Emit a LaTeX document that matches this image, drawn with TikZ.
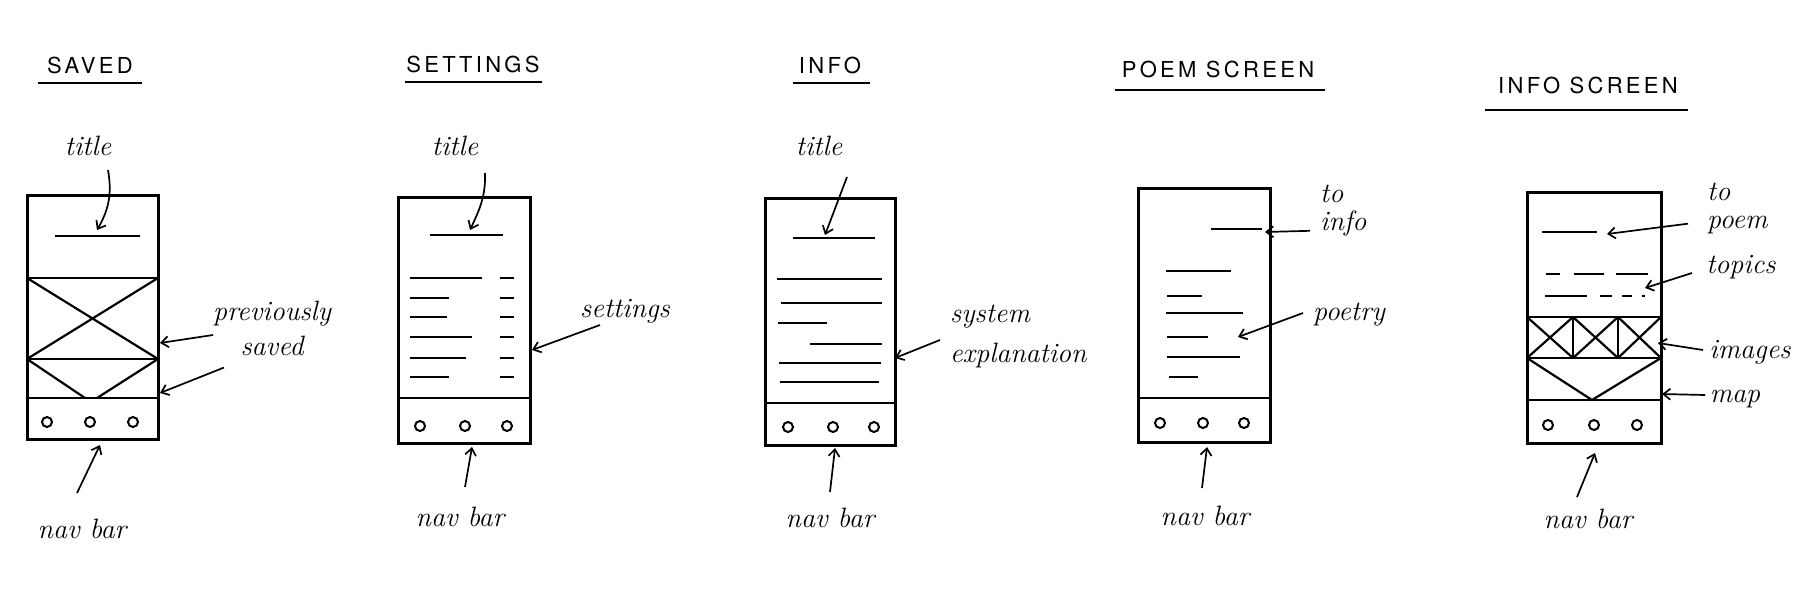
\documentclass[tikz,border=0pt]{standalone}
\usepackage{fontspec}
\newfontfamily\headfont[LetterSpace=15]{TeX Gyre Heros}
\usetikzlibrary{arrows.meta, positioning}

\begin{document}
\begin{tikzpicture}[x=1pt, y=-1pt,
        head/.style={font=\headfont\fontsize{22}{24}\selectfont, anchor=base, inner sep=2pt},
        note/.style={font=\itshape\fontsize{28}{30}\selectfont, anchor=base, inner sep=2pt},
        phone/.style={draw, line width=3pt, inner sep=0pt},
        bar/.style={line width=2.8pt},
        cross/.style={line width=2.2pt},
        navdot/.style={line width=2pt},
        arr/.style={-{Straight Barb[length=7pt, width=11pt]}, line width=1.7pt}]
    \useasboundingbox (0,0) rectangle (1800,600);

    % SAVED
    \node[head] (h1) at (90,73) {SAVED};
    \draw[bar] (38,83) -- (142,83);
    \node[phone, minimum width=131pt, minimum height=244pt] (f1) at (92.5,317) {};
    \draw[bar] (27,278) -- (158,278);
    \draw[bar] (27,359) -- (158,359);
    \draw[bar] (27,398) -- (158,398);
    \draw[cross] (27,278) -- (158,359) (158,278) -- (27,359);
    \draw[cross] (27,359) -- (85,398) (158,359) -- (97,398);
    \draw[bar] (55,236) -- (140,236);
    \foreach \x in {47,90,133} \draw[navdot] (\x,422) circle (5);
    \node[note] (ttl1) at (88,155) {title};
    \node[note] (prev1) at (272,320) {previously};
    \node[note, below=6pt of prev1] (sav1) {saved};
    \node[note] (nav1) at (82,538) {nav bar};
    \coordinate (tt1) at (97,230);
    \coordinate (pv1) at (160,343);
    \coordinate (sv1) at (160,393);
    \coordinate (nb1) at (100,445);
    \draw[arr] ([shift={(20,15)}]ttl1.base) to[out=-80, in=60] (tt1);
    \draw[arr] ([shift={(-59,15)}]prev1.base) -- (pv1);
    \draw[arr] ([shift={(-48,12)}]sav1.base) -- (sv1);
    \draw[arr] ([shift={(-5,-45)}]nav1.base) -- (nb1);

    % SETTINGS
    \node[head] (h2) at (473,72) {SETTINGS};
    \draw[bar] (405,82) -- (542,82);
    \node[phone, minimum width=132pt, minimum height=246pt] (f2) at (464,320) {};
    \draw[bar] (398,398) -- (530,398);
    \draw[bar] (430,235) -- (503,235);
    \foreach \y/\e in {278/482, 298/449, 317/447, 337/472, 358/466, 377/449} {
        \draw[bar] (410,\y) -- (\e,\y);
        \draw[bar] (500,\y) -- (514,\y);
    }
    \foreach \x in {420,465,507} \draw[navdot] (\x,426) circle (5);
    \node[note] (ttl2) at (455,155) {title};
    \node[note] (set2) at (625,317) {settings};
    \node[note] (nav2) at (460,526) {nav bar};
    \coordinate (tt2) at (470,230);
    \coordinate (st2) at (532,350);
    \coordinate (nb2) at (472,447);
    \draw[arr] ([shift={(30,18)}]ttl2.base) to[out=-88, in=65] (tt2);
    \draw[arr] ([shift={(-25,8)}]set2.base) -- (st2);
    \draw[arr] ([shift={(5,-39)}]nav2.base) -- (nb2);

    % INFO
    \node[head] (h3) at (830,73) {INFO};
    \draw[bar] (793,83) -- (870,83);
    \node[phone, minimum width=130pt, minimum height=247pt] (f3) at (830,321.5) {};
    \draw[bar] (765,403) -- (895,403);
    \draw[bar] (793,238) -- (875,238);
    \foreach \y/\a/\b in {279/777/882, 303/781/882, 323/778/827, 344/810/882, 363/779/881, 382/780/879}
        \draw[bar] (\a,\y) -- (\b,\y);
    \foreach \x in {788,833,874} \draw[navdot] (\x,427) circle (5);
    \node[note] (ttl3) at (819,155) {title};
    \node[note] (sys3) at (990,322) {system};
    \node[note, below=11pt of sys3.south west, anchor=north west] (exp3) {explanation};
    \node[note] (nav3) at (830,527) {nav bar};
    \coordinate (tt3) at (825,235);
    \coordinate (sx3) at (895,358);
    \coordinate (nb3) at (835,448);
    \draw[arr] ([shift={(28,22)}]ttl3.base) -- (tt3);
    \draw[arr] ([shift={(-50,18)}]sys3.base) -- (sx3);
    \draw[arr] ([shift={(0,-35)}]nav3.base) -- (nb3);

    % POEM SCREEN
    \node[head] (h4) at (1218,77) {POEM SCREEN};
    \draw[bar] (1115,90) -- (1325,90);
    \node[phone, minimum width=132pt, minimum height=254pt] (f4) at (1204,315) {};
    \draw[bar] (1138,398) -- (1270,398);
    \draw[bar] (1211,229) -- (1262,229);
    \foreach \y/\a/\b in {271/1166/1231, 296/1167/1202, 313/1166/1243, 337/1167/1208, 357/1167/1240, 377/1169/1198}
        \draw[bar] (\a,\y) -- (\b,\y);
    \foreach \x in {1160,1203,1244} \draw[navdot] (\x,423) circle (5);
    \node[note, anchor=north west, align=left, font=\itshape\fontsize{28}{28}\selectfont] (inf4) at (1318,183) {to\\info};
    \node[note] (poe4) at (1349,320) {poetry};
    \node[note] (nav4) at (1205,525) {nav bar};
    \coordinate (ti4) at (1265,232);
    \coordinate (pt4) at (1238,337);
    \coordinate (nb4) at (1207,447);
    \draw[arr] ([shift={(-8,20)}]inf4.west) -- (ti4);
    \draw[arr] ([shift={(-46,-7)}]poe4.base) -- (pt4);
    \draw[arr] ([shift={(-3,-37)}]nav4.base) -- (nb4);

    % INFO SCREEN
    \node[head] (h5) at (1588,93) {INFO SCREEN};
    \draw[bar] (1485,110) -- (1688,110);
    \node[phone, minimum width=134pt, minimum height=251pt] (f5) at (1594,317.5) {};
    \draw[bar] (1527,317) -- (1661,317);
    \draw[bar] (1527,358) -- (1661,358);
    \draw[bar] (1527,400) -- (1661,400);
    \draw[bar] (1573,317) -- (1573,358) (1618,317) -- (1618,358);
    \foreach \a/\b in {1527/1573, 1573/1618, 1618/1661}
        \draw[cross] (\a,317) -- (\b,358) (\b,317) -- (\a,358);
    \draw[cross] (1527,358) -- (1592,400) -- (1661,358);
    \draw[bar] (1542,232) -- (1597,232);
    \foreach \a/\b in {1546/1560, 1574/1604, 1616/1648}
        \draw[bar] (\a,274) -- (\b,274);
    \foreach \a/\b in {1545/1587, 1600/1612, 1622/1632, 1642/1645}
        \draw[bar] (\a,296) -- (\b,296);
    \foreach \x in {1548,1594,1637} \draw[navdot] (\x,425) circle (5);
    \node[note, anchor=north west, align=left, font=\itshape\fontsize{28}{28}\selectfont] (poem5) at (1705,181) {to\\poem};
    \node[note] (top5) at (1741,273) {topics};
    \node[note] (img5) at (1750,358) {images};
    \node[note] (map5) at (1735,402) {map};
    \node[note] (nav5) at (1588,528) {nav bar};
    \coordinate (tp5) at (1607,234);
    \coordinate (tc5) at (1645,288);
    \coordinate (im5) at (1658,343);
    \coordinate (mp5) at (1662,394);
    \coordinate (nb5) at (1595,453);
    \draw[arr] ([shift={(-17,15)}]poem5.west) -- (tp5);
    \draw[arr] ([shift={(-49,0)}]top5.base) -- (tc5);
    \draw[arr] ([shift={(-47,-8)}]img5.base) -- (im5);
    \draw[arr] ([shift={(-30,-7)}]map5.base) -- (mp5);
    \draw[arr] ([shift={(-11,-31)}]nav5.base) -- (nb5);
\end{tikzpicture}
\end{document}
